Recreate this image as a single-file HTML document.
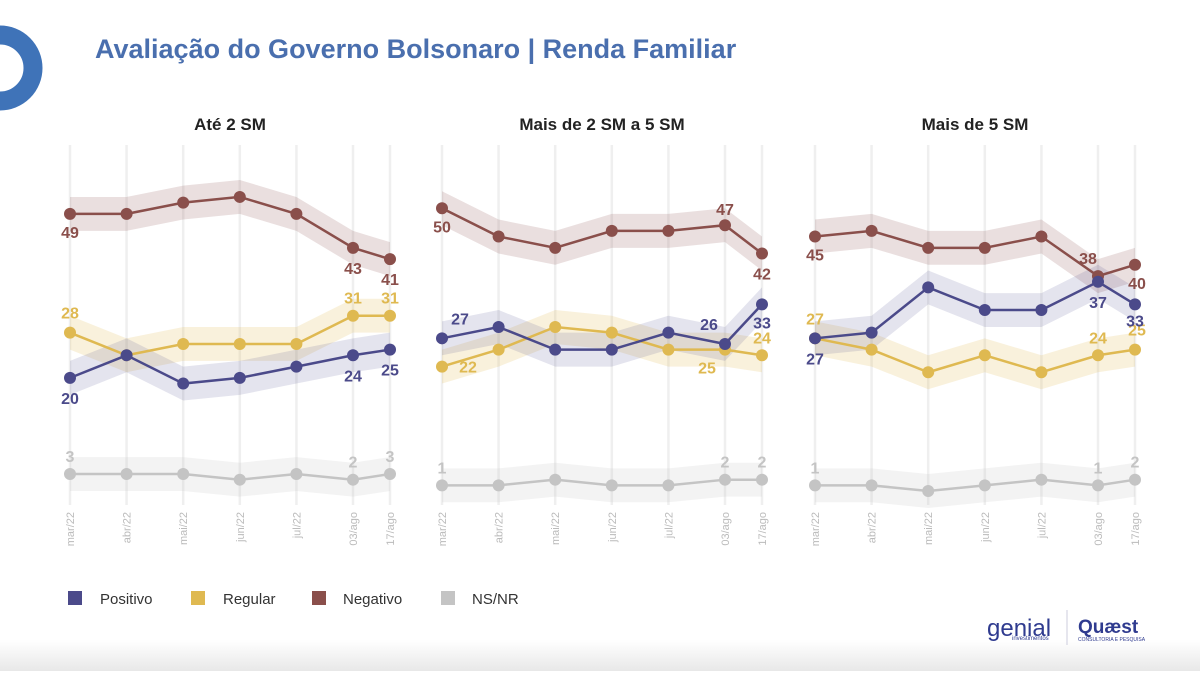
<!DOCTYPE html>
<html><head><meta charset="utf-8">
<style>
body{margin:0;width:1200px;height:671px;overflow:hidden;background:#fff;font-family:"Liberation Sans",sans-serif;}
</style></head>
<body>
<svg width="1200" height="671" id="svg" font-family="Liberation Sans, sans-serif">
<defs><linearGradient id="fg" x1="0" y1="0" x2="0" y2="1"><stop offset="0" stop-color="#fff"/><stop offset="1" stop-color="#e8e8e8"/></linearGradient></defs>
<rect x="0" y="640" width="1200" height="31" fill="url(#fg)"/>
<circle cx="0" cy="68" r="33" fill="none" stroke="#3f73b8" stroke-width="19"/>
<text x="95" y="58" font-size="27" font-weight="bold" fill="#4a6fae">Avaliação do Governo Bolsonaro | Renda Familiar</text>
<g id="plots"></g>
<g>
<rect x="68" y="591" width="14" height="14" fill="#4b4a8a"/><text x="100" y="604" font-size="15" fill="#333">Positivo</text>
<rect x="191" y="591" width="14" height="14" fill="#dfb951"/><text x="223" y="604" font-size="15" fill="#333">Regular</text>
<rect x="312" y="591" width="14" height="14" fill="#8a4f4b"/><text x="343" y="604" font-size="15" fill="#333">Negativo</text>
<rect x="441" y="591" width="14" height="14" fill="#c4c4c4"/><text x="472" y="604" font-size="15" fill="#333">NS/NR</text>
</g>
<g>
<text x="987" y="636" font-size="24" fill="#2f3b8f">genial</text>
<text x="1012" y="640" font-size="6" fill="#2f3b8f">investimentos</text>
<line x1="1067" y1="610" x2="1067" y2="645" stroke="#ccd"/>
<text x="1078" y="633" font-size="19" font-weight="bold" fill="#2f3b8f">Quæst</text>
<text x="1078" y="641" font-size="5" fill="#2f3b8f">CONSULTORIA E PESQUISA</text>
</g>
</svg>
<script>
const categories=["mar/22","abr/22","mai/22","jun/22","jul/22","03/ago","17/ago"];
const panelTitles=["Até 2 SM","Mais de 2 SM a 5 SM","Mais de 5 SM"];
const positivo=[[20,24,19,20,22,24,25],[27,29,25,25,28,26,33],[27,28,36,32,32,37,33]];
const regular=[[28,24,26,26,26,31,31],[22,25,29,28,25,25,24],[27,25,21,24,21,24,25]];
const negativo=[[49,49,51,52,49,43,41],[50,45,43,46,46,47,42],[45,46,43,43,45,38,40]];
const nsnr=[[3,3,3,2,3,2,3],[1,1,2,1,1,2,2],[1,1,0,1,2,1,2]];
const NS="http://www.w3.org/2000/svg";
const g=document.getElementById('plots');
const panelX=[70,442,815],step=56.6,lastGap=37;
function xPos(p,i){return i<6?panelX[p]+i*step:panelX[p]+5*step+lastGap;}
function yPos(v){return 491-v*5.655;}
function mk(tag,attrs,parent){const e=document.createElementNS(NS,tag);for(const k in attrs)e.setAttribute(k,attrs[k]);(parent||g).appendChild(e);return e;}
const series=[{n:'negativo',d:negativo,c:'#8a4f4b',b:'rgba(138,79,75,0.18)'},{n:'regular',d:regular,c:'#dfb951',b:'rgba(223,185,81,0.2)'},{n:'positivo',d:positivo,c:'#4b4a8a',b:'rgba(75,74,138,0.15)'},{n:'nsnr',d:nsnr,c:'#c4c4c4',b:'rgba(196,196,196,0.2)'}];
const labs={
negativo:[[[0,0,24],[5,0,26],[6,0,26]],[[0,0,24],[5,0,-10],[6,0,26]],[[0,0,24],[5,-10,-12],[6,2,24]]],
regular:[[[0,0,-14],[5,0,-12],[6,0,-12]],[[0,26,6],[5,-18,24],[6,0,-12]],[[0,0,-14],[5,0,-12],[6,2,-14]]],
positivo:[[[0,0,26],[5,0,26],[6,0,26]],[[0,18,-14],[5,-16,-14],[6,0,24]],[[0,0,26],[5,0,26],[6,0,22]]],
nsnr:[[[0,0,-12],[5,0,-12],[6,0,-12]],[[0,0,-12],[5,0,-12],[6,0,-12]],[[0,0,-12],[5,0,-12],[6,0,-12]]]};
for(let p=0;p<3;p++){
  const t=mk('text',{x:(xPos(p,0)+xPos(p,6))/2,y:130,'font-size':17,'font-weight':'bold','text-anchor':'middle',fill:'#222'});
  t.textContent=panelTitles[p];
  
  
  categories.forEach((c,i)=>{
    const x=xPos(p,i);
    const l=mk('line',{x1:x,y1:145,x2:x,y2:505,stroke:'#efefef','stroke-width':2.5});
    
    
    const tx=mk('text',{x:0,y:0,'font-size':11,fill:'#bbb','text-anchor':'end',transform:`translate(${x+4},512) rotate(-90)`});
    tx.textContent=c;
    
    
  });
  series.forEach(s=>{
    const d=s.d[p];
    const up=d.map((v,i)=>xPos(p,i)+','+yPos(v+3)).join(' ');
    const dn=d.map((v,i)=>xPos(p,i)+','+yPos(v-3)).reverse().join(' ');
    const band=mk('polygon',{points:up+' '+dn,fill:s.b});
    
    
  });
  series.forEach(s=>{
    const d=s.d[p];
    const line=mk('polyline',{points:d.map((v,i)=>xPos(p,i)+','+yPos(v)).join(' '),fill:'none',stroke:s.c,'stroke-width':2.5});
    
    
    d.forEach((v,i)=>{
      const c=mk('circle',{cx:xPos(p,i),cy:yPos(v),r:6,fill:s.c});
      
      
    });
    labs[s.n][p].forEach(([i,dx,dy])=>{
      const t=mk('text',{x:xPos(p,i)+dx,y:yPos(d[i])+dy,'font-size':16,'font-weight':'bold','text-anchor':'middle',fill:s.c});
      t.textContent=d[i];
      
      
    });
  });
}
</script>
</body></html>
